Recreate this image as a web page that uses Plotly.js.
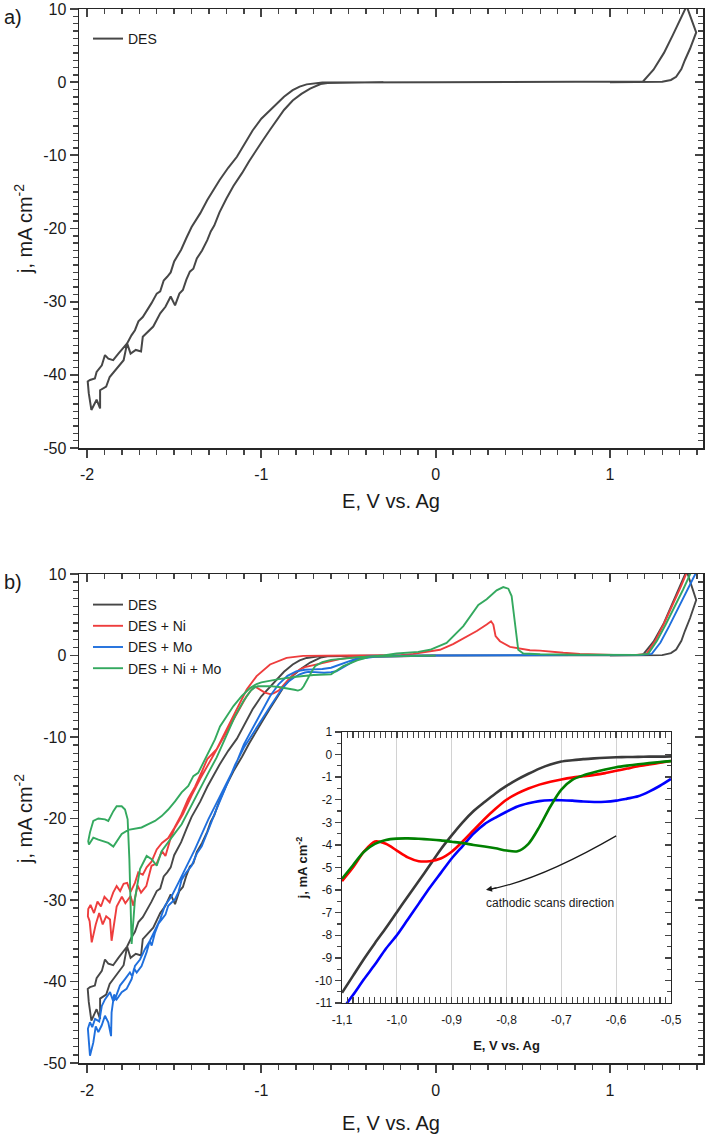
<!DOCTYPE html>
<html><head><meta charset="utf-8">
<script src="https://cdn.plot.ly/plotly-3.0.1.min.js"></script>
<style>html,body{margin:0;padding:0;background:#fff}#chart{width:708px;height:1136px}</style>
</head><body><div id="chart"></div>
<script>
// ---------- DATA (E in V vs. Ag, j in mA cm-2) ----------
const desE = [
 -0.30,-0.55,-0.62,-0.66,-0.72,-0.77,-0.82,-0.87,-0.91,-0.95,
 -0.99,-1.03,-1.07,-1.11,-1.16,-1.20,-1.24,-1.27,-1.29,-1.31,
 -1.34,-1.37,-1.39,-1.41,-1.43,-1.45,-1.47,-1.495,-1.52,-1.55,
 -1.58,-1.62,-1.65,-1.68,-1.69,-1.72,-1.75,-1.77,-1.79,-1.82,
 -1.84,-1.87,-1.89,-1.925,-1.925,-1.945,-1.975,-1.99,-1.996,-1.983,
 -1.955,-1.945,-1.915,-1.897,-1.878,-1.85,-1.82,-1.79,-1.77,-1.745,
 -1.725,-1.705,-1.68,-1.63,-1.60,-1.58,-1.56,-1.54,-1.52,-1.50,
 -1.48,-1.46,-1.43,-1.40,-1.35,-1.31,-1.24,-1.19,-1.14,-1.09,
 -1.05,-1.00,-0.97,-0.92,-0.87,-0.82,-0.78,-0.74,-0.70,-0.65,
 0.0,0.5,1.0,1.15,1.19,1.25,1.31,1.36,1.41,1.44,
 1.495,1.48,1.46,1.43,1.41,1.38,1.35,1.30,1.0];
const desJ = [
 0.0,-0.02,-0.10,-0.25,-0.87,-1.6,-2.5,-3.8,-5.1,-6.5,
 -7.9,-9.3,-10.8,-12.4,-14.2,-15.9,-17.8,-19.6,-20.4,-21.6,
 -23.0,-24.1,-25.5,-25.9,-27.0,-28.4,-28.9,-30.5,-29.3,-30.7,
 -31.6,-33.4,-34.1,-34.8,-36.8,-36.6,-37.1,-35.7,-38.0,-38.9,
 -39.4,-40.3,-41.6,-42.1,-44.6,-43.4,-44.8,-42.5,-40.9,-40.7,
 -40.5,-39.6,-38.7,-37.3,-37.8,-38.0,-37.1,-36.2,-35.7,-34.6,
 -33.9,-32.7,-32.1,-30.2,-28.9,-28.6,-27.1,-26.6,-26.0,-24.5,
 -23.6,-22.9,-21.3,-19.8,-17.9,-16.1,-13.4,-11.7,-10.2,-8.3,
 -6.6,-5.0,-4.3,-3.1,-2.0,-1.1,-0.6,-0.3,-0.15,-0.05,
 0.0,0.0,0.02,0.05,0.1,1.7,4.0,6.4,9.0,10.4,
 6.8,5.8,4.6,3.0,1.8,0.73,0.3,0.05,0.0];

const niE = [
 0.0,-0.2,-0.35,-0.45,-0.5,-0.55,-0.6,-0.66,-0.7,-0.75,
 -0.78,-0.81,-0.84,-0.87,-0.90,-0.93,-0.95,-0.98,-1.01,-1.035,
 -1.055,-1.07,-1.085,-1.10,-1.15,-1.20,-1.25,-1.30,-1.35,-1.40,
 -1.45,-1.50,-1.52,-1.55,-1.57,-1.60,-1.63,-1.66,-1.69,-1.71,
 -1.734,-1.75,-1.78,-1.80,-1.83,-1.859,-1.868,-1.89,-1.91,-1.93,
 -1.95,-1.973,-1.985,-1.995,-1.993,-1.98,-1.96,-1.94,-1.92,-1.90,
 -1.87,-1.85,-1.83,-1.81,-1.79,-1.77,-1.75,-1.725,-1.706,-1.68,
 -1.658,-1.63,-1.60,-1.57,-1.534,-1.50,-1.46,-1.42,-1.38,-1.34,
 -1.31,-1.256,-1.218,-1.17,-1.13,-1.084,-1.027,-0.95,-0.855,-0.76,
 -0.5,-0.2,-0.128,0.025,0.10,0.159,0.236,0.293,0.318,0.331,
 0.344,0.369,0.427,0.541,0.599,0.732,0.828,1.02,1.15,1.21,
 1.26,1.31,1.36,1.41,1.445,1.50];
const niJ = [
 -0.02,-0.05,-0.15,-0.22,-0.27,-0.45,-0.68,-0.98,-1.2,-1.42,
 -1.72,-2.2,-2.85,-3.6,-4.3,-4.65,-4.74,-4.55,-4.1,-3.82,
 -4.15,-4.55,-5.0,-5.6,-7.5,-9.4,-11.3,-13.2,-15.1,-17.2,
 -19.5,-21.3,-22.4,-24.6,-24.0,-25.5,-25.8,-28.3,-29.1,-28.2,
 -30.7,-29.5,-30.4,-29.6,-30.8,-35.0,-32.4,-32.0,-33.0,-31.6,
 -33.0,-35.2,-32.6,-32.0,-31.1,-30.6,-31.6,-30.2,-30.8,-29.6,
 -30.3,-29.1,-28.3,-28.9,-28.0,-27.9,-29.0,-27.9,-26.6,-26.9,
 -26.0,-25.3,-23.8,-23.0,-22.4,-21.2,-19.6,-17.6,-16.1,-14.2,
 -12.7,-11.5,-9.9,-7.8,-6.2,-4.17,-2.53,-1.1,-0.29,-0.05,
 0.0,0.05,0.2,0.7,1.4,2.1,3.0,3.8,4.2,3.8,
 2.37,1.75,1.06,0.65,0.6,0.33,0.2,0.08,0.08,0.2,
 1.8,3.9,6.2,8.6,10.4,13.0];

const moE = [
 0.0,-0.2,-0.35,-0.45,-0.50,-0.54,-0.57,-0.60,-0.64,-0.69,
 -0.73,-0.75,-0.78,-0.81,-0.84,-0.87,-0.885,-0.90,-0.95,-1.00,
 -1.067,-1.10,-1.15,-1.19,-1.23,-1.266,-1.30,-1.342,-1.37,-1.40,
 -1.43,-1.457,-1.475,-1.495,-1.534,-1.55,-1.572,-1.59,-1.61,-1.629,
 -1.64,-1.658,-1.687,-1.715,-1.73,-1.744,-1.773,-1.801,-1.83,-1.845,
 -1.859,-1.862,-1.878,-1.897,-1.916,-1.935,-1.95,-1.964,-1.983,-1.993,
 -1.995,-1.983,-1.97,-1.954,-1.93,-1.915,-1.897,-1.868,-1.85,-1.84,
 -1.811,-1.782,-1.754,-1.74,-1.725,-1.696,-1.667,-1.639,-1.61,-1.581,
 -1.553,-1.514,-1.476,-1.438,-1.381,-1.304,-1.228,-1.151,-1.10,-1.05,
 -1.00,-0.95,-0.90,-0.85,-0.80,-0.75,-0.70,-0.65,-0.60,-0.55,
 -0.50,-0.45,-0.40,-0.30,0.0,0.5,1.0,1.18,1.24,1.29,
 1.34,1.39,1.44,1.49,1.52];
const moJ = [
 -0.02,-0.05,-0.15,-0.45,-1.08,-1.64,-1.93,-2.04,-2.11,-2.04,
 -2.01,-2.09,-2.3,-2.67,-3.12,-3.78,-4.22,-4.66,-6.3,-8.0,
 -10.2,-11.3,-13.4,-15.4,-17.4,-19.3,-21.2,-23.4,-24.3,-25.8,
 -26.6,-27.5,-29.0,-29.9,-30.7,-31.8,-32.4,-32.9,-34.0,-35.6,
 -35.0,-36.4,-38.1,-38.9,-38.4,-39.7,-40.9,-41.3,-42.2,-41.6,
 -43.8,-46.7,-45.0,-44.2,-45.4,-46.2,-45.5,-47.5,-49.1,-46.7,
 -45.8,-45.0,-45.6,-44.6,-44.9,-43.0,-42.2,-41.3,-42.4,-42.2,
 -40.5,-39.7,-38.9,-39.4,-38.1,-37.3,-36.0,-35.0,-33.6,-32.4,
 -30.7,-29.5,-27.9,-26.2,-23.8,-20.1,-16.8,-13.6,-10.9,-8.9,
 -7.0,-5.0,-3.5,-2.5,-1.95,-1.75,-1.7,-1.65,-1.5,-1.1,
 -0.7,-0.35,-0.15,-0.05,0.0,0.02,0.03,0.08,0.2,1.6,
 3.6,5.7,7.9,10.0,11.5];

const nimoE = [
 0.0,-0.2,-0.35,-0.45,-0.50,-0.55,-0.60,-0.65,-0.69,-0.708,
 -0.727,-0.74,-0.757,-0.77,-0.79,-0.81,-0.84,-0.87,-0.90,-0.95,
 -1.00,-1.02,-1.04,-1.06,-1.08,-1.10,-1.15,-1.20,-1.256,-1.304,
 -1.342,-1.381,-1.419,-1.457,-1.515,-1.572,-1.60,-1.629,-1.658,-1.696,
 -1.725,-1.744,-1.757,-1.767,-1.782,-1.801,-1.83,-1.849,-1.878,-1.897,
 -1.935,-1.964,-1.983,-1.993,-1.989,-1.964,-1.935,-1.906,-1.878,-1.849,
 -1.83,-1.801,-1.763,-1.725,-1.687,-1.648,-1.61,-1.572,-1.534,-1.495,
 -1.457,-1.419,-1.39,-1.362,-1.323,-1.294,-1.275,-1.266,-1.237,-1.199,
 -1.16,-1.113,-1.065,-1.027,-1.00,-0.90,-0.80,-0.70,-0.60,-0.53,
 -0.45,-0.38,-0.30,-0.224,-0.10,-0.032,0.063,0.159,0.245,0.293,
 0.35,0.388,0.417,0.436,0.455,0.474,0.503,0.6,0.8,1.0,
 1.16,1.22,1.27,1.32,1.37,1.42,1.465,1.50];
const nimoJ = [
 -0.02,-0.05,-0.12,-0.22,-0.3,-0.4,-0.53,-0.82,-1.27,-1.86,
 -2.6,-3.2,-3.78,-4.15,-4.3,-4.2,-4.07,-3.95,-3.86,-3.76,
 -3.72,-3.78,-3.95,-4.3,-4.9,-5.5,-7.4,-9.8,-12.5,-14.4,
 -16.0,-17.65,-19.3,-20.7,-22.35,-24.0,-25.8,-25.0,-24.6,-26.2,
 -29.9,-35.4,-25.0,-20.1,-18.9,-18.5,-18.5,-19.1,-20.3,-20.1,
 -20.0,-20.3,-21.7,-22.8,-23.2,-22.35,-22.6,-22.8,-23.0,-23.45,
 -22.8,-21.9,-21.4,-21.25,-21.1,-20.7,-20.3,-19.7,-18.9,-17.9,
 -16.8,-16.0,-14.8,-14.4,-12.75,-11.5,-10.6,-10.3,-8.7,-7.4,
 -6.2,-5.0,-4.0,-3.5,-3.3,-2.9,-2.6,-2.4,-2.3,-1.3,
 -0.6,-0.15,0.0,0.25,0.45,0.7,1.55,3.6,6.2,6.9,
 8.0,8.4,8.2,7.3,4.0,0.7,0.25,0.15,0.1,0.08,
 0.08,0.2,1.8,3.8,5.9,8.1,10.2,12.0];

// inset: cathodic scans, -1.1 ... -0.5 V
const insetE = [-1.10,-1.08,-1.06,-1.04,-1.02,-1.00,-0.98,-0.96,-0.94,-0.92,
 -0.90,-0.88,-0.86,-0.84,-0.82,-0.80,-0.78,-0.76,-0.74,-0.72,
 -0.70,-0.68,-0.66,-0.64,-0.62,-0.60,-0.58,-0.56,-0.54,-0.52,-0.50];
const insetDES = [-10.55,-9.8,-9.05,-8.35,-7.68,-6.98,-6.28,-5.6,-4.9,-4.2,
 -3.58,-3.0,-2.5,-2.1,-1.72,-1.39,-1.1,-0.85,-0.62,-0.44,
 -0.31,-0.25,-0.2,-0.17,-0.14,-0.12,-0.11,-0.1,-0.09,-0.09,-0.08];
const insetNi = [-5.6,-5.0,-4.3,-3.85,-3.95,-4.25,-4.55,-4.72,-4.72,-4.6,
 -4.3,-3.85,-3.35,-2.85,-2.4,-2.0,-1.72,-1.5,-1.33,-1.2,
 -1.1,-1.02,-0.96,-0.9,-0.82,-0.72,-0.62,-0.52,-0.44,-0.36,-0.28];
const insetMo = [-11.3,-10.65,-9.95,-9.3,-8.6,-8.0,-7.3,-6.6,-5.9,-5.25,
 -4.6,-4.05,-3.5,-3.08,-2.79,-2.53,-2.3,-2.16,-2.06,-2.02,
 -2.02,-2.04,-2.08,-2.1,-2.09,-2.04,-1.95,-1.85,-1.64,-1.38,-1.08];
const insetNiMo = [-5.5,-4.9,-4.3,-3.95,-3.78,-3.72,-3.71,-3.73,-3.76,-3.8,
 -3.86,-3.92,-4.0,-4.07,-4.15,-4.25,-4.28,-3.95,-3.2,-2.3,
 -1.55,-1.12,-0.92,-0.78,-0.66,-0.56,-0.49,-0.43,-0.38,-0.33,-0.29];

// tick labels
const xTickVals = [-2,-1,0,1];
const xTickText = ['-2','-1','0','1'];
const yTickVals = [-50,-40,-30,-20,-10,0,10];
const yTickText = ['-50','-40','-30','-20','-10','0','10'];
const insetXTicks = [-1.1,-1.0,-0.9,-0.8,-0.7,-0.6,-0.5];
const insetXText = ['-1,1','-1,0','-0,9','-0,8','-0,7','-0,6','-0,5'];
const insetYTicks = [-11,-10,-9,-8,-7,-6,-5,-4,-3,-2,-1,0,1];
const insetYText = ['-11','-10','-9','-8','-7','-6','-5','-4','-3','-2','-1','0','1'];
const seriesNames = ['DES','DES + Ni','DES + Mo','DES + Ni + Mo'];

// ---------- STYLE / LAYOUT ----------
const FONT = 'Liberation Sans, Arial, sans-serif';
const AX = '#262626';
const M = {l:79, r:5, t:9, b:73};
const PW = 708 - M.l - M.r, PH = 1136 - M.t - M.b;
const px = v => (v - M.l) / PW;
const py = v => (1136 - M.b - v) / PH;
const mainCol = ['#474747','#ee3d3d','#1f6fdd','#34a95f'];
const insetCol = ['#3a3a3a','#ff0000','#0000ff','#008000'];
const xRange = [-2.046, 1.534];
const yRange = [-50, 10];

// evenly spaced minor-tick positions (axis furniture, not data)
function steps(a, b, s){ const out=[]; const n=Math.round((b-a)/s); for(let i=0;i<=n;i++) out.push(+(a+i*s).toFixed(4)); return out; }

const TICKC = '#444444';
const TS = {
  main:  {color:TICKC, w:1.8, len:8, mlen:5, mw:1.4},
  inset: {color:TICKC, w:1.4, len:6, mlen:4, mw:1.1}
};
function ax(ts, extra){
  return Object.assign({showline:true, linecolor:AX, linewidth:1.5, zeroline:false, showgrid:false,
    ticks:'outside', ticklen:ts.len, tickwidth:ts.w, tickcolor:ts.color,
    tickfont:{family:FONT, size:16, color:'#1a1a1a'}}, extra);
}
function minor(ts, vals, dir){ return {tickmode:'array', tickvals:vals, ticks:dir, ticklen:ts.mlen, tickwidth:ts.mw, tickcolor:ts.color, showgrid:false}; }

const mainXMinor = steps(-1.9, 1.5, 0.1).filter(v => Math.abs(v - Math.round(v)) > 1e-6);
const mainYMinor = steps(-49, 9, 1).filter(v => v % 10 !== 0);
const insetXMinor = steps(-1.09, -0.51, 0.01).filter(v => Math.abs(v*10 - Math.round(v*10)) > 1e-6);
const insetYMinor = steps(-10.5, 0.5, 1);

const topDom = [py(448), py(9)];
const botDom = [py(1063), py(574)];

const traces = [];
traces.push({x:desE, y:desJ, xaxis:'x', yaxis:'y', mode:'lines', name:seriesNames[0], legend:'legend',
  line:{color:mainCol[0], width:2}});
const mainSets = [[desE,desJ],[niE,niJ],[moE,moJ],[nimoE,nimoJ]];
mainSets.forEach((s,i)=>{
  traces.push({x:s[0], y:s[1], xaxis:'x2', yaxis:'y2', mode:'lines', name:seriesNames[i], legend:'legend2',
    line:{color:mainCol[i], width:1.9}});
});
const insetSets = [insetDES, insetNi, insetMo, insetNiMo];
insetSets.forEach((s,i)=>{
  traces.push({x:insetE, y:s, xaxis:'x3', yaxis:'y3', mode:'lines', showlegend:false, name:seriesNames[i],
    line:{color:insetCol[i], width:2.6, shape:'spline', smoothing:0.8}});
});
// empty carriers so the inner-tick frame axes get drawn
[['x4','y'],['x','y4'],['x5','y2'],['x2','y5'],['x3','y6']].forEach(p=>{
  traces.push({x:[], y:[], xaxis:p[0], yaxis:p[1], mode:'lines', showlegend:false, hoverinfo:'skip'});
});

const titleFont = {family:FONT, size:20, color:'#1a1a1a'};
const frameX = (ts, ov, anc) => ax(ts, {overlaying:ov, anchor:anc, side:'top', range:xRange, ticks:'inside', showticklabels:false,
    tickmode:'array', tickvals:xTickVals, minor:minor(ts, mainXMinor,'inside')});
const frameY = (ts, ov, anc) => ax(ts, {overlaying:ov, anchor:anc, side:'right', range:yRange, ticks:'inside', showticklabels:false,
    tickmode:'array', tickvals:yTickVals, minor:minor(ts, mainYMinor,'inside')});

const layout = {
  width:708, height:1136, margin:M, paper_bgcolor:'#fff', plot_bgcolor:'#fff',
  font:{family:FONT, color:'#1a1a1a'},
  xaxis: ax(TS.main, {domain:[0,1], anchor:'y', range:xRange, tickmode:'array', tickvals:xTickVals, ticktext:xTickText,
    ticklabelstandoff:3, minor:minor(TS.main, mainXMinor,'outside'), title:{text:'E, V vs. Ag', font:titleFont, standoff:12}}),
  yaxis: ax(TS.main, {domain:topDom, anchor:'x', range:yRange, tickmode:'array', tickvals:yTickVals, ticktext:yTickText,
    minor:minor(TS.main, mainYMinor,'outside'), title:{text:'j, mA cm<sup>-2</sup>', font:titleFont, standoff:5}}),
  xaxis2: ax(TS.main, {domain:[0,1], anchor:'y2', range:xRange, tickmode:'array', tickvals:xTickVals, ticktext:xTickText,
    ticklabelstandoff:4, minor:minor(TS.main, mainXMinor,'outside'), title:{text:'E, V vs. Ag', font:titleFont, standoff:18}}),
  yaxis2: ax(TS.main, {domain:botDom, anchor:'x2', range:yRange, tickmode:'array', tickvals:yTickVals, ticktext:yTickText,
    minor:minor(TS.main, mainYMinor,'outside'), title:{text:'j, mA cm<sup>-2</sup>', font:titleFont, standoff:5}}),
  xaxis4: frameX(TS.main, 'x','y'),
  yaxis4: frameY(TS.main, 'y','x'),
  xaxis5: frameX(TS.main, 'x2','y2'),
  yaxis5: frameY(TS.main, 'y2','x2'),
  // inset
  xaxis3: ax(TS.inset, {domain:[px(342), px(671)], anchor:'y3', range:[-1.1,-0.5], tickmode:'array',
    tickvals:insetXTicks, ticktext:insetXText, ticks:'inside', mirror:'allticks', linewidth:1.3,
    showgrid:true, gridcolor:'#d2d2d2', gridwidth:1, ticklabelstandoff:5,
    tickfont:{family:FONT, size:12, color:'#1a1a1a'}, minor:minor(TS.inset, insetXMinor,'inside'),
    title:{text:'<b>E, V vs. Ag</b>', font:{family:FONT, size:13, color:'#1a1a1a'}, standoff:15}}),
  yaxis3: ax(TS.inset, {domain:[py(1003), py(732)], anchor:'x3', range:[-11,1], tickmode:'array',
    tickvals:insetYTicks, ticktext:insetYText, ticks:'outside', linewidth:1.3,
    tickfont:{family:FONT, size:12, color:'#1a1a1a'}, minor:minor(TS.inset, insetYMinor,'outside'),
    title:{text:'<b>j, mA cm<sup>-2</sup></b>', font:{family:FONT, size:13, color:'#1a1a1a'}, standoff:4}}),
  yaxis6: ax(TS.inset, {overlaying:'y3', anchor:'x3', side:'right', range:[-11,1], ticks:'inside', linewidth:1.3,
    showticklabels:false, tickmode:'array', tickvals:insetYTicks, minor:minor(TS.inset, insetYMinor,'inside')}),
  legend: {x:px(88), y:py(23), xanchor:'left', yanchor:'top', bgcolor:'rgba(0,0,0,0)',
    font:{family:FONT, size:14, color:'#1a1a1a'}},
  legend2: {x:px(88), y:py(589), xanchor:'left', yanchor:'top', bgcolor:'rgba(0,0,0,0)',
    font:{family:FONT, size:14, color:'#1a1a1a'}},
  annotations: [
    {text:'a)', xref:'paper', yref:'paper', x:px(2), y:py(17), xanchor:'left', yanchor:'middle', showarrow:false,
      font:{family:FONT, size:20, color:'#1a1a1a'}},
    {text:'b)', xref:'paper', yref:'paper', x:px(2), y:py(582), xanchor:'left', yanchor:'middle', showarrow:false,
      font:{family:FONT, size:20, color:'#1a1a1a'}},
    {text:'cathodic scans direction', xref:'x3', yref:'y3', x:-0.7206, y:-6.57, showarrow:false,
      font:{family:FONT, size:12, color:'#1a1a1a'}},
    {text:'', xref:'x3', yref:'y3', x:-0.8374, y:-5.99, ax:12, ay:-2.2, showarrow:true,
      arrowhead:2, arrowsize:1, arrowwidth:1.2, arrowcolor:'#1a1a1a'}
  ],
  shapes: [
    {type:'path', xref:'x3', yref:'y3', path:'M -0.6,-3.6 Q -0.739,-5.55 -0.831,-5.97',
      line:{color:'#1a1a1a', width:1.2}}
  ]
};
Plotly.newPlot('chart', traces, layout, {staticPlot:true, displayModeBar:false});
</script></body></html>
